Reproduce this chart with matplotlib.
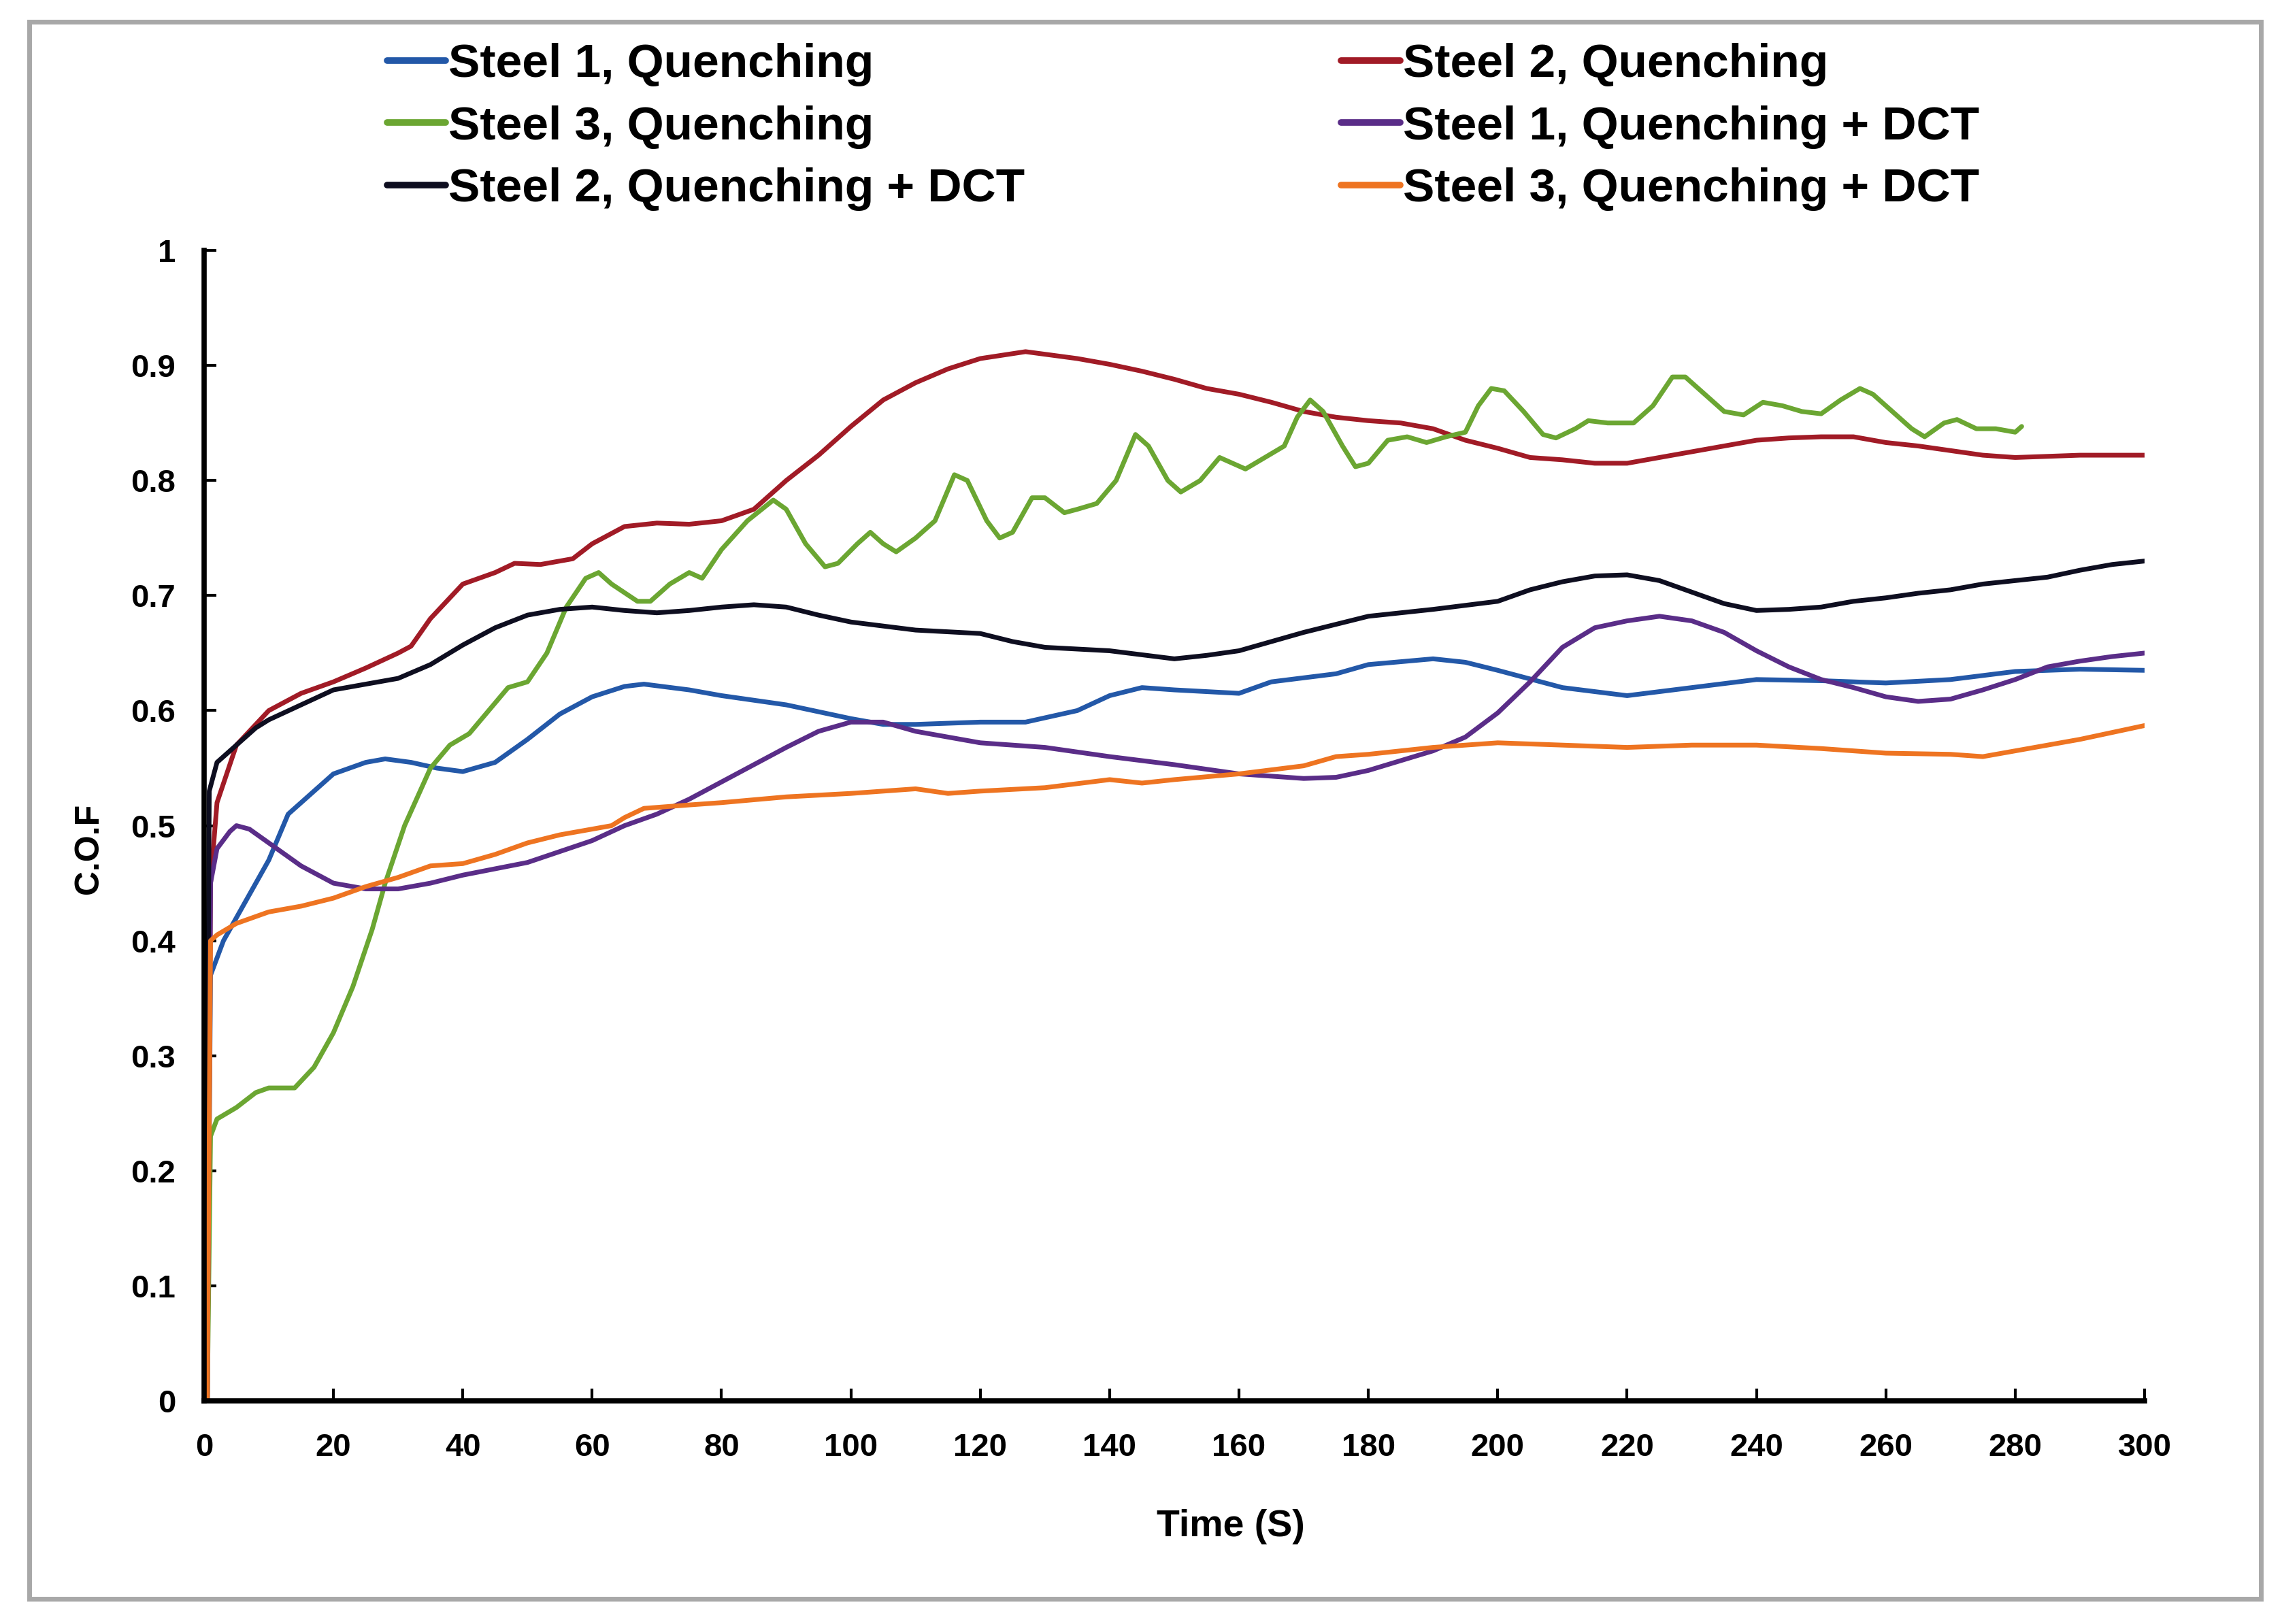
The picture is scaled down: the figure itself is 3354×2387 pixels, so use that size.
import matplotlib
matplotlib.use("Agg")
import matplotlib.pyplot as plt
from matplotlib.patches import Rectangle

# ---------------- data ----------------
labels = ["Steel 1, Quenching", "Steel 2, Quenching", "Steel 3, Quenching",
          "Steel 1, Quenching + DCT", "Steel 2, Quenching + DCT", "Steel 3, Quenching + DCT"]
colors = ["#2358A8", "#A11B26", "#6BA632", "#5A2D88", "#0E0E20", "#EE7421"]

s1q_t = [0.5, 1, 3, 5, 10, 13, 17, 20, 25, 28, 32, 36, 40, 45, 50, 55, 60, 65, 68, 75, 80, 90,
         100, 105, 110, 120, 127, 135, 140, 145, 150, 160, 165, 175, 180, 190, 195, 200, 210,
         220, 230, 240, 250, 260, 270, 280, 290, 300]
s1q_v = [0.0, 0.37, 0.40, 0.42, 0.47, 0.51, 0.53, 0.545, 0.555, 0.558, 0.555, 0.55, 0.547,
         0.555, 0.575, 0.597, 0.612, 0.621, 0.623, 0.618, 0.613, 0.605, 0.593, 0.588, 0.588,
         0.59, 0.59, 0.60, 0.613, 0.62, 0.618, 0.615, 0.625, 0.632, 0.64, 0.645, 0.642, 0.635,
         0.62, 0.613, 0.62, 0.627, 0.626, 0.624, 0.627, 0.634, 0.636, 0.635]

s2q_t = [0.5, 1, 2, 5, 10, 15, 20, 25, 30, 32, 35, 40, 45, 48, 52, 57, 60, 65, 70, 75, 80, 85,
         90, 95, 100, 105, 110, 115, 120, 127, 135, 140, 145, 150, 155, 160, 165, 170, 175, 180,
         185, 190, 195, 200, 205, 210, 215, 220, 225, 230, 235, 240, 245, 250, 255, 260, 265,
         270, 275, 280, 290, 300]
s2q_v = [0.0, 0.45, 0.52, 0.57, 0.60, 0.615, 0.625, 0.637, 0.65, 0.656, 0.68, 0.71, 0.72,
         0.728, 0.727, 0.732, 0.745, 0.76, 0.763, 0.762, 0.765, 0.775, 0.80, 0.822, 0.847,
         0.87, 0.885, 0.897, 0.906, 0.912, 0.906, 0.901, 0.895, 0.888, 0.88, 0.875, 0.868,
         0.86, 0.855, 0.852, 0.85, 0.845, 0.835, 0.828, 0.82, 0.818, 0.815, 0.815, 0.82,
         0.825, 0.83, 0.835, 0.837, 0.838, 0.838, 0.833, 0.83, 0.826, 0.822, 0.82, 0.822, 0.822]

s3q_t = [0.5, 1, 2, 5, 8, 10, 14, 17, 20, 23, 26, 28, 31, 35, 38, 41, 44, 47, 50, 53, 56, 59,
         61, 63, 67, 69, 72, 75, 77, 80, 84, 88, 90, 93, 96, 98, 101, 103, 105, 107, 110, 113,
         116, 118, 121, 123, 125, 128, 130, 133, 135, 138, 141, 144, 146, 149, 151, 154, 157,
         159, 161, 164, 167, 169, 171, 173, 176, 178, 180, 183, 186, 189, 192, 195, 197, 199,
         201, 204, 207, 209, 212, 214, 217, 221, 224, 227, 229, 232, 235, 238, 241, 244, 247,
         250, 253, 256, 258, 261, 264, 266, 269, 271, 274, 277, 280, 281]
s3q_v = [0.0, 0.23, 0.245, 0.255, 0.268, 0.272, 0.272, 0.29, 0.32, 0.36, 0.41, 0.45, 0.50,
         0.55, 0.57, 0.58, 0.60, 0.62, 0.625, 0.65, 0.69, 0.715, 0.72, 0.71, 0.695, 0.695,
         0.71, 0.72, 0.715, 0.74, 0.765, 0.783, 0.775, 0.745, 0.725, 0.728, 0.745, 0.755,
         0.745, 0.738, 0.75, 0.765, 0.805, 0.80, 0.765, 0.75, 0.755, 0.785, 0.785, 0.772,
         0.775, 0.78, 0.80, 0.84, 0.83, 0.80, 0.79, 0.80, 0.82, 0.815, 0.81, 0.82, 0.83, 0.855,
         0.87, 0.86, 0.83, 0.812, 0.815, 0.835, 0.838, 0.833, 0.838, 0.842, 0.865, 0.88, 0.878,
         0.86, 0.84, 0.837, 0.845, 0.852, 0.85, 0.85, 0.865, 0.89, 0.89, 0.875, 0.86, 0.857,
         0.868, 0.865, 0.86, 0.858, 0.87, 0.88, 0.875, 0.86, 0.845, 0.838, 0.85, 0.853, 0.845,
         0.845, 0.842, 0.847]

s1d_t = [0.5, 1, 2, 4, 5, 7, 10, 15, 20, 25, 30, 35, 40, 50, 60, 65, 70, 75, 80, 85, 90, 95,
         100, 105, 110, 115, 120, 130, 140, 150, 160, 170, 175, 180, 190, 195, 200, 205, 210,
         215, 220, 225, 230, 235, 240, 245, 250, 255, 260, 265, 270, 275, 280, 285, 290, 295, 300]
s1d_v = [0.0, 0.45, 0.48, 0.495, 0.50, 0.497, 0.485, 0.465, 0.45, 0.445, 0.445, 0.45, 0.457,
         0.468, 0.487, 0.50, 0.51, 0.523, 0.538, 0.553, 0.568, 0.582, 0.59, 0.59, 0.582,
         0.577, 0.572, 0.568, 0.56, 0.553, 0.545, 0.541, 0.542, 0.548, 0.565, 0.577, 0.598,
         0.625, 0.655, 0.672, 0.678, 0.682, 0.678, 0.668, 0.652, 0.638, 0.627, 0.62, 0.612,
         0.608, 0.61, 0.618, 0.627, 0.638, 0.643, 0.647, 0.65]

s2d_t = [0.3, 0.8, 2, 5, 8, 10, 15, 20, 25, 30, 35, 40, 45, 50, 55, 60, 65, 70, 75, 80, 85, 90,
         95, 100, 110, 120, 125, 130, 140, 150, 155, 160, 170, 180, 190, 200, 205, 210, 215,
         220, 225, 230, 235, 240, 245, 250, 255, 260, 265, 270, 275, 280, 285, 290, 295, 300]
s2d_v = [0.0, 0.53, 0.555, 0.57, 0.585, 0.592, 0.605, 0.618, 0.623, 0.628, 0.64, 0.657,
         0.672, 0.683, 0.688, 0.69, 0.687, 0.685, 0.687, 0.69, 0.692, 0.69, 0.683, 0.677,
         0.67, 0.667, 0.66, 0.655, 0.652, 0.645, 0.648, 0.652, 0.668, 0.682, 0.688, 0.695,
         0.705, 0.712, 0.717, 0.718, 0.713, 0.703, 0.693, 0.687, 0.688, 0.69, 0.695, 0.698,
         0.702, 0.705, 0.71, 0.713, 0.716, 0.722, 0.727, 0.73]

s3d_t = [0.5, 1, 2, 5, 10, 15, 20, 25, 30, 35, 40, 45, 50, 55, 60, 63, 65, 68, 75, 80, 90, 100,
         110, 115, 120, 130, 140, 145, 150, 160, 170, 175, 180, 190, 200, 210, 220, 230, 240,
         250, 260, 270, 275, 280, 290, 300]
s3d_v = [0.0, 0.40, 0.405, 0.415, 0.425, 0.43, 0.437, 0.447, 0.455, 0.465, 0.467, 0.475,
         0.485, 0.492, 0.497, 0.50, 0.507, 0.515, 0.518, 0.52, 0.525, 0.528, 0.532, 0.528,
         0.53, 0.533, 0.54, 0.537, 0.54, 0.545, 0.552, 0.56, 0.562, 0.568, 0.572, 0.57,
         0.568, 0.57, 0.57, 0.567, 0.563, 0.562, 0.56, 0.565, 0.575, 0.587]

series = [(s1q_t, s1q_v), (s2q_t, s2q_v), (s3q_t, s3q_v),
          (s1d_t, s1d_v), (s2d_t, s2d_v), (s3d_t, s3d_v)]

x_ticks = list(range(0, 301, 20))
y_ticks = [0, 0.1, 0.2, 0.3, 0.4, 0.5, 0.6, 0.7, 0.8, 0.9, 1]
y_tick_labels = ["0", "0.1", "0.2", "0.3", "0.4", "0.5", "0.6", "0.7", "0.8", "0.9", "1"]

# ---------------- figure ----------------
FONT = ["Liberation Sans Narrow", "Liberation Sans", "DejaVu Sans"]
plt.rcParams['font.family'] = FONT
plt.rcParams['font.weight'] = 'bold'

fig = plt.figure(figsize=(33.55, 23.87), dpi=100)
ax = fig.add_axes([0.0894, 0.1374, 0.9395 - 0.0894, 0.8458 - 0.1374])

handles = []
for (t, v), c, lab in zip(series, colors, labels):
    h, = ax.plot(t, v, color=c, lw=5.0, label=lab, solid_joinstyle='round',
                 solid_capstyle='round')
    handles.append(h)

ax.set_xlim(0, 300)
ax.set_ylim(0, 1)
ax.set_xticks(x_ticks)
ax.set_yticks(y_ticks)
ax.set_yticklabels(y_tick_labels)
for s in ['top', 'right']:
    ax.spines[s].set_visible(False)
for s in ['left', 'bottom']:
    ax.spines[s].set_linewidth(5.5)
    ax.spines[s].set_color('black')
ax.tick_params(direction='in', length=13, width=3, labelsize=34, colors='black')
ax.tick_params(axis='y', pad=30)
ax.tick_params(axis='x', pad=34)
for lab in ax.get_xticklabels() + ax.get_yticklabels():
    lab.set_fontweight('bold')

ax.set_xlabel("Time (S)", fontsize=40, fontweight='bold')
ax.xaxis.set_label_coords(0.529, -0.094)
ax.set_ylabel("C.O.F", fontsize=36, fontweight='bold')
ax.yaxis.set_label_coords(-0.051, 0.48)

# legend filled row by row as in the reference
order = [0, 2, 4, 1, 3, 5]
leg = fig.legend(handles=[handles[i] for i in order], labels=[labels[i] for i in order],
                 ncol=2, loc='upper left', bbox_to_anchor=(0.155, 0.994), frameon=False,
                 fontsize=50, handlelength=1.25, handletextpad=0.05, columnspacing=6.7,
                 labelspacing=0.4, borderpad=0.2)
for txt in leg.get_texts():
    txt.set_fontweight('bold')
for lh in leg.get_lines():
    lh.set_linewidth(7)

# outer grey frame
fig.patches.append(Rectangle((43 / 3355, 1 - 2350 / 2387), (3323 - 43) / 3355,
                             (2350 - 32) / 2387, transform=fig.transFigure,
                             fill=False, edgecolor='#A8A8A8', linewidth=5))

fig.savefig("out.png", dpi=100, facecolor='white')
